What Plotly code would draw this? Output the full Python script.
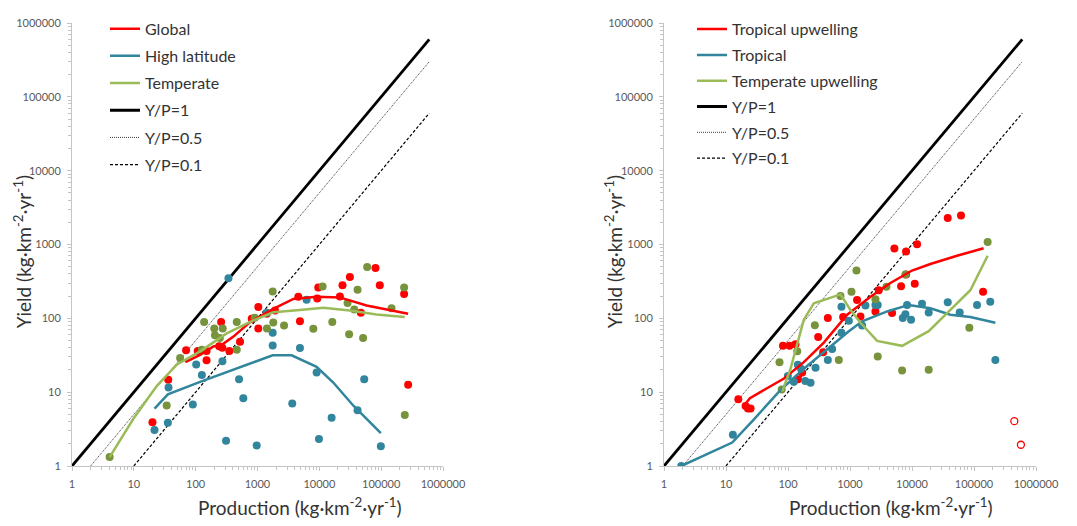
import plotly.graph_objects as go

# ---------------- axis ticks ----------------
TICK_VALS = [1, 10, 100, 1000, 10000, 100000, 1000000]
TICK_TEXT = ["1", "10", "100", "1000", "10000", "100000", "1000000"]
MINOR_TICKS = [m * 10 ** k for k in range(6) for m in range(2, 10)]

# ---------------- Y/P reference lines ----------------
YP_LABELS = ["Y/P=1", "Y/P=0.5", "Y/P=0.1"]
YP_RATIOS = [1, 0.5, 0.1]
YP_X_START = [1, 2, 10]
YP_X_END = 600000

# ---------------- left panel: Global / High latitude / Temperate ----------------
global_x = [20, 36, 70, 108, 150, 150, 258, 240, 270, 351, 522, 806, 1030, 1030,
            1410, 1920, 4570, 4860, 9260, 9610, 21500, 23700, 31200, 47000, 81000,
            95000, 235000, 273000]
global_y = [3.9, 14.7, 37, 36, 27, 36, 89, 42, 40, 36, 48, 99, 142, 73,
            115, 128, 196, 91, 186, 261, 198, 280, 362, 119, 482,
            280, 213, 12.6]
global_fit_x = [68, 118, 194, 265, 408, 760, 1800, 3800, 9040, 21500, 58000, 273000]
global_fit_y = [25.5, 32, 41.6, 43.7, 56.5, 89, 134, 183, 196, 192, 149, 115]

highlat_x = [21.6, 36.4, 35.5, 90, 102, 126, 271, 339, 310, 503, 590, 970, 1410,
             1760, 1760, 3650, 4860, 6220, 9040, 9860, 15800, 41500, 53200, 98800]
highlat_y = [3.08, 11.6, 3.85, 6.8, 23.7, 17.1, 26.2, 348, 2.19, 15, 8.3, 1.9, 119,
             64, 43, 7, 39.5, 179, 18.4, 2.33, 4.5, 5.7, 15, 1.85]
highlat_fit_x = [21.6, 35.5, 118, 408, 1760, 3560, 9040, 16800, 35300, 98800]
highlat_fit_y = [5.97, 9.36, 13.8, 20.3, 31.5, 31.5, 22, 13.5, 6.6, 2.78]

temperate_x = [4.06, 34, 56, 137, 126, 200, 205, 246, 274, 462, 462, 900, 1420, 1760,
               1800, 2690, 8000, 11300, 16200, 28600, 30300, 36700, 41500, 51000,
               59400, 147000, 235000, 241000]
temperate_y = [1.32, 6.6, 29, 89, 37.5, 73, 59, 54, 73, 37.5, 89, 102, 73, 231,
               88, 80, 72, 269, 89, 161, 61, 132, 243, 54,
               497, 137, 261, 4.9]
temperate_fit_x = [4.06, 9.9, 23.6, 50, 118, 317, 855, 1800, 4860, 11600, 31200, 84000, 241000]
temperate_fit_y = [1.32, 4.4, 12.2, 23.7, 35.7, 62.5, 94, 121, 130, 139, 128, 113, 104]

# ---------------- right panel: Tropical upwelling / Tropical / Temperate upwelling ----------------
trop_up_x = [15.8, 20.7, 22.6, 24.9, 83, 106, 132, 169, 145, 307, 369, 439, 775, 1300,
             1475, 2570, 2910, 4770, 5200, 6660, 8020, 8020, 11070, 12070, 37700,
             61700, 140000]
trop_up_y = [8.0, 6.5, 6.0, 6.0, 42.4, 42.4, 44.7, 18.4, 15, 55.9, 34.6, 101, 104, 177,
             106, 124, 240, 118, 881, 272, 803, 393, 295, 1005, 2277,
             2467, 229]
trop_up_open_x = [447000, 571000]
trop_up_open_y = [4.05, 1.94]
trop_up_fit_x = [20, 24.3, 86, 180, 378, 900, 2140, 4490, 10000, 19800, 53200, 143000]
trop_up_fit_y = [6.75, 8.3, 15.3, 25.5, 47, 112, 196, 301, 444, 545, 703, 889]

tropical_x = [1.9, 12.9, 99.5, 124, 144, 162, 190, 231, 278, 439, 515, 728, 728, 958,
              1570, 1775, 2570, 2800, 7100, 7830, 8320, 9660, 14500, 18600, 37700,
              58800, 112000, 183000, 221000]
tropical_y = [1.0, 2.64, 16.6, 13.8, 23.5, 20.8, 14.2, 13.4, 21.4, 27.3, 38.3, 144, 63.8, 93,
              80, 149, 152, 152, 101, 114, 152, 96, 157, 120, 165,
              120, 152, 168, 27.3]
tropical_fit_x = [1.9, 12.6, 28, 76, 180, 428, 958, 1570, 3970, 8850, 19800, 41600, 87300, 221000]
tropical_fit_y = [1.0, 2.08, 4.26, 10.7, 20.8, 38.3, 67, 91, 124, 152, 137, 112, 104, 87]

temp_up_x = [73, 79, 141, 271, 660, 702, 1057, 1272, 2570, 2800, 3870, 6920, 7830,
             18600, 84100, 166000]
temp_up_y = [25.5, 10.9, 35.7, 80.7, 27.3, 200, 229, 444, 181, 30.3, 267, 19.7, 393,
             20.1, 74.4, 1080]
temp_up_fit_x = [80.7, 110, 180, 261, 702, 1018, 1475, 2740, 6920, 18600, 47000, 87300, 166000]
temp_up_fit_y = [10.2, 20.8, 96, 160, 211, 130, 87, 49.4, 42.4, 67, 144, 240, 703]

# ---------------- styling ----------------
RED = "#FF0000"
BLUE = "#31859C"
GREEN_LINE = "#9BBB59"
GREEN_PT = "#77933C"
FONT = "Lato"

YP_STYLE = [
    dict(color="#000000", width=2.8, dash="solid"),
    dict(color="#3a3a3a", width=1, dash="1px,1px"),
    dict(color="#000000", width=1.2, dash="3px,2px"),
]

fig = go.Figure()


def add_panel(xa, ya, legend, series, tag):
    # reference lines Y = r * P
    for i, (lab, r, x0) in enumerate(zip(YP_LABELS, YP_RATIOS, YP_X_START)):
        xs = [x0, YP_X_END]
        fig.add_trace(go.Scatter(
            x=xs, y=[r * v for v in xs], mode="lines", name=lab,
            line=YP_STYLE[i], xaxis=xa, yaxis=ya, legend=legend,
            legendgroup=f"{tag}_yp{i}", legendrank=10 + i, hoverinfo="skip"))
    # observations
    for k, s in enumerate(series):
        fig.add_trace(go.Scatter(
            x=s["x"], y=s["y"], mode="markers", showlegend=False,
            marker=dict(color=s["pt"], size=8, line=dict(width=0)),
            xaxis=xa, yaxis=ya, legend=legend, legendgroup=f"{tag}_{k}"))
        if "ox" in s:
            fig.add_trace(go.Scatter(
                x=s["ox"], y=s["oy"], mode="markers", showlegend=False,
                marker=dict(symbol="circle-open", color=s["pt"], size=7,
                            line=dict(width=1.3)),
                xaxis=xa, yaxis=ya, legend=legend, legendgroup=f"{tag}_{k}"))
    # fitted trends
    for k, s in enumerate(series):
        fig.add_trace(go.Scatter(
            x=s["fx"], y=s["fy"], mode="lines", name=s["name"],
            line=dict(color=s["ln"], width=2.5),
            xaxis=xa, yaxis=ya, legend=legend, legendgroup=f"{tag}_{k}",
            legendrank=k + 1))


add_panel("x", "y", "legend", [
    dict(name="Global", x=global_x, y=global_y, fx=global_fit_x, fy=global_fit_y,
         pt=RED, ln=RED),
    dict(name="High latitude", x=highlat_x, y=highlat_y, fx=highlat_fit_x,
         fy=highlat_fit_y, pt=BLUE, ln=BLUE),
    dict(name="Temperate", x=temperate_x, y=temperate_y, fx=temperate_fit_x,
         fy=temperate_fit_y, pt=GREEN_PT, ln=GREEN_LINE),
], "L")

add_panel("x2", "y2", "legend2", [
    dict(name="Tropical upwelling", x=trop_up_x, y=trop_up_y, fx=trop_up_fit_x,
         fy=trop_up_fit_y, pt=RED, ln=RED, ox=trop_up_open_x, oy=trop_up_open_y),
    dict(name="Tropical", x=tropical_x, y=tropical_y, fx=tropical_fit_x,
         fy=tropical_fit_y, pt=BLUE, ln=BLUE),
    dict(name="Temperate upwelling", x=temp_up_x, y=temp_up_y, fx=temp_up_fit_x,
         fy=temp_up_fit_y, pt=GREEN_PT, ln=GREEN_LINE),
], "R")

AXIS = dict(
    type="log", range=[0, 6], showgrid=False, zeroline=False,
    showline=True, linecolor="#C4C4C4", linewidth=1,
    ticks="outside", ticklen=4, tickcolor="#C4C4C4",
    tickmode="array", tickvals=TICK_VALS, ticktext=TICK_TEXT,
    tickfont=dict(family=FONT, size=11, color="#595959"),
    minor=dict(tickmode="array", tickvals=MINOR_TICKS, ticks="outside",
               ticklen=3, tickcolor="#C4C4C4", showgrid=False),
)

L, R, T, B = 72, 41, 14, 60
W, H = 1077, 526
PW, PH = W - L - R, H - T - B


def px(x):
    return (x - L) / PW


def py(y):
    return (H - B - y) / PH


LEGEND_FONT = dict(family=FONT, size=16, color="#333333")

fig.update_layout(
    width=W, height=H,
    margin=dict(l=L, r=R, t=T, b=B),
    paper_bgcolor="white", plot_bgcolor="white",
    showlegend=True,
    xaxis=dict(AXIS, domain=[0, px(443)], anchor="y", ticklabelstandoff=4),
    yaxis=dict(AXIS, domain=[0, 1], anchor="x", ticklabelstandoff=4),
    xaxis2=dict(AXIS, domain=[px(664), 1], anchor="y2", ticklabelstandoff=4),
    yaxis2=dict(AXIS, domain=[0, 1], anchor="x2", ticklabelstandoff=4),
    legend=dict(x=px(105), y=py(2.5), xanchor="left", yanchor="top",
                bgcolor="rgba(0,0,0,0)", traceorder="grouped", tracegroupgap=3.4,
                font=LEGEND_FONT),
    legend2=dict(x=px(692), y=py(3), xanchor="left", yanchor="top",
                 bgcolor="rgba(0,0,0,0)", traceorder="grouped", tracegroupgap=2.0,
                 font=LEGEND_FONT),
    font=dict(family=FONT, color="#333333"),
)

X_TITLE = "Production (kg·km<sup>-2</sup>·yr<sup>-1</sup>)"
Y_TITLE = "Yield (kg·km<sup>-2</sup>·yr<sup>-1</sup>)"
TITLE_FONT = dict(family=FONT, size=19, color="#333333")

for cx in (300, 891):
    fig.add_annotation(text=X_TITLE, xref="paper", yref="paper", x=px(cx), y=py(507),
                       showarrow=False, font=TITLE_FONT, xanchor="center", yanchor="middle")
for cx in (22, 613):
    fig.add_annotation(text=Y_TITLE, xref="paper", yref="paper", x=px(cx), y=py(248),
                       showarrow=False, font=TITLE_FONT, textangle=-90,
                       xanchor="center", yanchor="middle")

fig.write_html("out.html")
